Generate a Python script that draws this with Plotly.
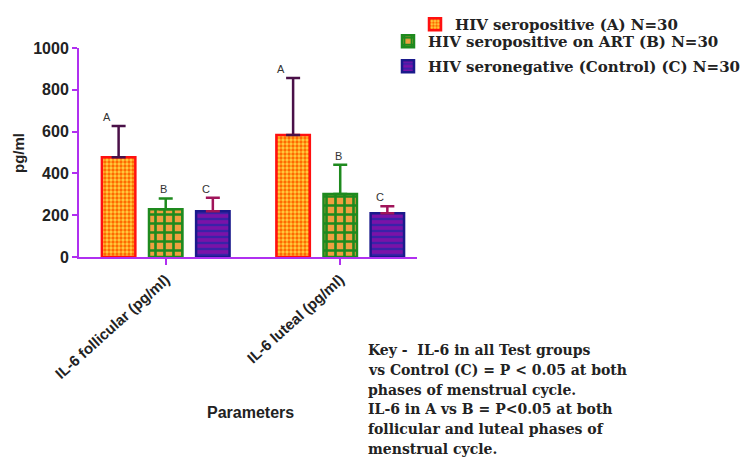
import plotly.graph_objects as go

categories = ["IL-6 follicular (pg/ml)", "IL-6 luteal (pg/ml)"]
group_names = ["HIV seropositive (A) N=30",
               "HIV seropositive on ART (B) N=30",
               "HIV seronegative (Control) (C) N=30"]
group_letters = ["A", "B", "C"]
means_A = [477, 584]
means_B = [229, 301]
means_C = [219, 209]
err_A = [150, 272]
err_B = [51, 140]
err_C = [64, 34]
y_ticks = [0, 200, 400, 600, 800, 1000]
key_lines = ["Key -  IL-6 in all Test groups",
             "vs Control (C) = P < 0.05 at both",
             "phases of menstrual cycle.",
             "IL-6 in A vs B = P<0.05 at both",
             "follicular and luteal phases of",
             "menstrual cycle."]

means = [means_A, means_B, means_C]
errs = [err_A, err_B, err_C]

OFF = 8  # page body offset
W, H = 751 - OFF, 460 - OFF
ML, MR, MT, MB = 79 - OFF, 334, 48 - OFF, 203
PW, PH = W - ML - MR, H - MT - MB


def px_x(px):
    return (px - OFF - ML) / PW


def px_y(py):
    return (H + OFF - MB - py) / PH


styles = [
    dict(line="#FF1010", shape=".", bg="#FFD040", fg="#FF6A00", size=4, sol=0.55, err="#4A1048"),
    dict(line="#1E8A1E", shape="+", bg="#F0A040", fg="#1E8A1E", size=9, sol=0.5, err="#1E8A1E"),
    dict(line="#1A1A8C", shape="-", bg="#7A12A8", fg="#3A22A8", size=6, sol=0.4, err="#A0145A"),
]

bargap = 0.19
bargroupgap = 0.29
slot = (1 - bargap) / 3

legend_pos = [(407 / W, 1.0), (380 / W, 1 - 17 / H), (380 / W, 1 - 42 / H)]
legend_ids = ["legend", "legend2", "legend3"]

serif = "DejaVu Serif, Liberation Serif, Times New Roman"
sans = "Arial, Liberation Sans"

fig = go.Figure()
for i in range(3):
    s = styles[i]
    fig.add_trace(go.Bar(
        x=categories, y=means[i], name=group_names[i],
        legend=legend_ids[i],
        marker=dict(
            color=s["bg"],
            line=dict(color=s["line"], width=2.5),
            pattern=dict(shape=s["shape"], bgcolor=s["bg"], fgcolor=s["fg"],
                         size=s["size"], solidity=s["sol"], fillmode="replace"),
        ),
        error_y=dict(type="data", array=errs[i], arrayminus=[0] * len(errs[i]),
                     symmetric=False, color=s["err"], thickness=2.5, width=7),
    ))

letter_shift = [-12, -2, -7]
for i in range(3):
    for j in range(len(categories)):
        fig.add_annotation(
            x=j + (i - 1) * slot, y=means[i][j] + errs[i][j],
            xref="x", yref="y", text=group_letters[i], showarrow=False,
            yanchor="bottom", xshift=letter_shift[i], yshift=1,
            font=dict(family=sans, size=11, color="#333"),
        )

for k, line in enumerate(key_lines):
    fig.add_annotation(
        x=px_x(366), y=px_y(350 + k * 19.8), xref="paper", yref="paper",
        text=line, showarrow=False, align="left",
        xanchor="left", yanchor="middle",
        font=dict(family=serif, size=14, color="#222", weight="bold"),
    )
fig.add_annotation(
    x=px_x(250), y=px_y(412), xref="paper", yref="paper",
    text="<b>Parameters</b>", showarrow=False,
    xanchor="center", yanchor="middle",
    font=dict(family=sans, size=16, color="#222"),
)
fig.add_annotation(
    x=px_x(18), y=px_y(153), xref="paper", yref="paper",
    text="<b>pg/ml</b>", showarrow=False, textangle=-90,
    xanchor="center", yanchor="middle",
    font=dict(family=sans, size=15, color="#222"),
)

legend_common = dict(
    xref="container", yref="container", xanchor="left", yanchor="top",
    bgcolor="rgba(0,0,0,0)", borderwidth=0,
    font=dict(family=serif, size=15, color="#222", weight="bold"),
)
lay_legends = {}
for k, lid in enumerate(legend_ids):
    lay_legends[lid] = dict(x=legend_pos[k][0], y=legend_pos[k][1], **legend_common)

fig.update_layout(
    width=W, height=H,
    margin=dict(l=ML, r=MR, t=MT, b=MB, autoexpand=False),
    paper_bgcolor="white", plot_bgcolor="white",
    barmode="group", bargap=bargap, bargroupgap=bargroupgap,
    showlegend=True,
    xaxis=dict(
        type="category", range=[-0.497, 1.44], showgrid=False, automargin=False,
        showline=True, linecolor="#B030F0", linewidth=2,
        ticks="outside", ticklen=6, tickwidth=2, tickcolor="#B030F0",
        tickangle=-42, zeroline=False,
        tickfont=dict(family=sans, size=15, color="#222", weight="bold"),
    ),
    yaxis=dict(
        range=[0, 1000], tickvals=y_ticks, showgrid=False, zeroline=False, automargin=False,
        showline=True, linecolor="#B030F0", linewidth=2,
        ticks="outside", ticklen=5, tickwidth=2, tickcolor="#B030F0",
        tickfont=dict(family=sans, size=16, color="#222", weight="bold"),
    ),
    **lay_legends,
)

fig.write_html("out.html")
